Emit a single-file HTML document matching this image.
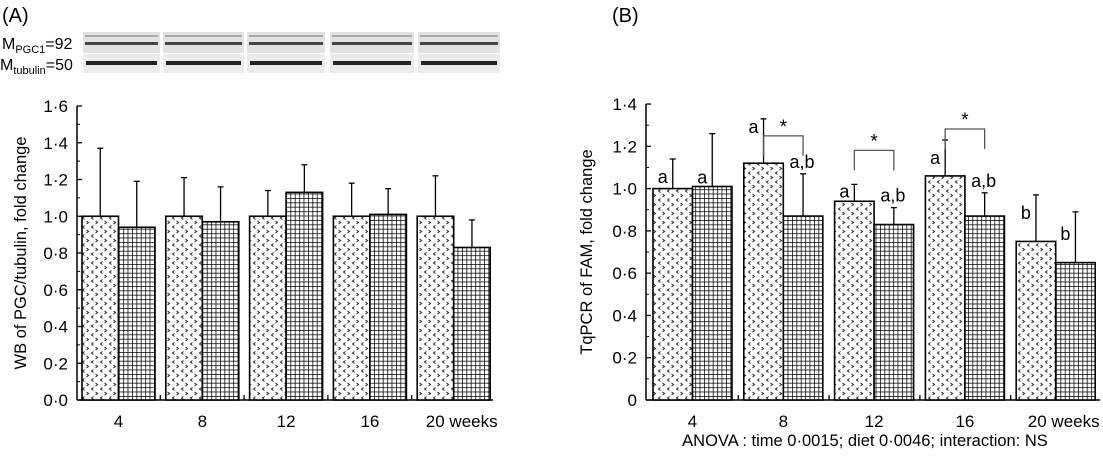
<!DOCTYPE html>
<html><head><meta charset="utf-8"><style>
html,body{margin:0;padding:0;background:#fff;}
svg{display:block;font-family:"Liberation Sans",Arial,sans-serif;}
</style></head><body>
<svg id="c" width="1103" height="458" viewBox="0 0 1103 458" xmlns="http://www.w3.org/2000/svg">
<defs>
<pattern id="dots" width="9" height="9" patternUnits="userSpaceOnUse">
<rect width="9" height="9" fill="#fff"/>
<path d="M3.5 0.5 L1.5 2 L3.5 3.5 M5.5 5 L7.5 6.5 L5.5 8" stroke="#222" stroke-width="1" fill="none"/>
</pattern>
<pattern id="grid" width="4.4" height="4.4" patternUnits="userSpaceOnUse">
<rect width="4.4" height="4.4" fill="#fff"/>
<path d="M0 0 H4.4 M0 0 V4.4" stroke="#000" stroke-width="1.5"/>
</pattern>
</defs>
<text x="2" y="22" font-size="20">(A)</text>
<text x="612" y="22" font-size="20">(B)</text>
<text x="2" y="49" font-size="16">M<tspan font-size="11" dy="4">PGC1</tspan><tspan dy="-4">=92</tspan></text>
<text x="0" y="70" font-size="16">M<tspan font-size="11" dy="4">tubulin</tspan><tspan dy="-4">=50</tspan></text>
<g id="blots"></g>
<g id="ga"></g><g id="gb"></g>
<text x="865" y="446" font-size="16.5" text-anchor="middle">ANOVA : time 0·0015; diet 0·0046; interaction: NS</text>
</svg>
<script>
const categories=["4","8","12","16","20 weeks"];
const aControl=[1.0,1.0,1.0,1.0,1.0];
const aTreat=[0.94,0.97,1.13,1.01,0.83];
const aControlErr=[1.37,1.21,1.14,1.18,1.22];
const aTreatErr=[1.19,1.16,1.28,1.15,0.98];
const aTicks=["0·0","0·2","0·4","0·6","0·8","1·0","1·2","1·4","1·6"];
const bControl=[1.0,1.12,0.94,1.06,0.75];
const bTreat=[1.01,0.87,0.83,0.87,0.65];
const bControlErr=[1.14,1.33,1.02,1.23,0.97];
const bTreatErr=[1.26,1.07,0.91,0.98,0.89];
const bControlLetters=["a","a","a","a","b"];
const bTreatLetters=["a","a,b","a,b","a,b","b"];
const bTicks=["0","0·2","0·4","0·6","0·8","1·0","1·2","1·4"];
const bStars=[false,true,true,true,false];
const NS="http://www.w3.org/2000/svg";
function mk(p,t,a){const e=document.createElementNS(NS,t);for(const k in a)e.setAttribute(k,a[k]);p.appendChild(e);return e;}
const bl=document.getElementById('blots');
const strips=[[83,160],[163,244],[247,325],[330,414],[418,500]];
strips.forEach(s=>{
 mk(bl,'rect',{x:s[0],y:32,width:s[1]-s[0],height:21,fill:'#e2e2e2'});
 mk(bl,'rect',{x:s[0],y:54,width:s[1]-s[0],height:19,fill:'#ebebeb'});
 mk(bl,'rect',{x:s[0]+2,y:42,width:s[1]-s[0]-4,height:3,fill:'#444'});
 mk(bl,'rect',{x:s[0]+2,y:35,width:s[1]-s[0]-4,height:2,fill:'#aaa'});
 mk(bl,'rect',{x:s[0]+3,y:61,width:s[1]-s[0]-6,height:4,fill:'#222'});
});
function panel(gid,o){
 const g=document.getElementById(gid);
 const y=v=>o.y0-v*o.k;
 mk(g,'line',{x1:o.ax,y1:y(o.max),x2:o.ax,y2:o.y0,stroke:'#000','stroke-width':1.5});
 mk(g,'line',{x1:o.ax,y1:o.y0,x2:o.xend,y2:o.y0,stroke:'#000','stroke-width':1.5});
 o.ticks.forEach((t,i)=>{const v=i*0.2;
  mk(g,'line',{x1:o.ax,y1:y(v),x2:o.ax+5,y2:y(v),stroke:'#000','stroke-width':1.3});
  if(i<o.ticks.length-1)mk(g,'line',{x1:o.ax,y1:y(v+0.1),x2:o.ax+3,y2:y(v+0.1),stroke:'#000','stroke-width':1});
  const tx=mk(g,'text',{x:o.ax-9,y:y(v)+6,'font-size':17,'text-anchor':'end'});tx.textContent=t;
  
  
 });
 const yt=mk(g,'text',{x:0,y:0,'font-size':16.5,'text-anchor':'middle',transform:`translate(${o.tx},${(y(o.max)+o.y0)/2}) rotate(-90)`});
 yt.textContent=o.title;
 
 
 categories.forEach((c,i)=>{
  const x0=o.x0+i*o.step,w=o.w;
  if(i>0)mk(g,'line',{x1:x0-o.gap/2,y1:o.y0,x2:x0-o.gap/2,y2:o.y0-5,stroke:'#000','stroke-width':1.3});
  [[o.c[i],o.ce[i],'url(#dots)',x0,'bar-control-'+c],[o.t[i],o.te[i],'url(#grid)',x0+w,'bar-treatment-'+c]].forEach(b=>{
   const cx=b[3]+w/2;
   mk(g,'line',{x1:cx,y1:y(b[1]),x2:cx,y2:y(b[0]),stroke:'#000','stroke-width':1.3});
   mk(g,'line',{x1:cx-3,y1:y(b[1]),x2:cx+3,y2:y(b[1]),stroke:'#000','stroke-width':1.3});
   const r=mk(g,'rect',{x:b[3],y:y(b[0]),width:w,height:o.y0-y(b[0]),fill:b[2],stroke:'#000','stroke-width':1.6});
   
   
  });
  const lx=mk(g,'text',{x:x0+w+(i==4?8:0),y:o.y0+27,'font-size':17,'text-anchor':'middle'});lx.textContent=c;
  
  
  if(o.cl){
   const l1=mk(g,'text',{x:x0+w/2-5,y:Math.min(y(o.c[i])-4,y(o.ce[i])+24)+(i==1?-10:0),'font-size':18,'text-anchor':'end'});l1.textContent=o.cl[i];
   
   
   const l2=mk(g,'text',{x:x0+w+w/2+(o.tl[i].length>1?-1:-5),y:y(o.te[i])+(o.tl[i].length>1?-6:28)+(i==0?22:0),'font-size':18,'text-anchor':o.tl[i].length>1?'middle':'end'});l2.textContent=o.tl[i];
   
   
   if(o.st[i]){
    const top=y(Math.max(o.ce[i],o.te[i]))+(i==1?17:i==3?-11:-34);
    const p=mk(g,'path',{d:`M${x0+w/2} ${top+20} V${top} H${x0+w*1.5} V${top+20}`,fill:'none',stroke:'#555','stroke-width':1.3});
    
    
    const s=mk(g,'text',{x:x0+w,y:top-3,'font-size':19,'text-anchor':'middle'});s.textContent='*';
    
    
   }
  }
 });
}
panel('ga',{ax:77,y0:400,k:183.75,max:1.6,xend:493,x0:82,step:83.8,w:36.5,gap:11,ticks:aTicks,title:'WB of PGC/tubulin, fold change',tx:26,c:aControl,t:aTreat,ce:aControlErr,te:aTreatErr});
panel('gb',{ax:646,y0:400,k:211.4,max:1.4,xend:1100,x0:653,step:90.8,w:39.5,gap:11,ticks:bTicks,title:'TqPCR of FAM, fold change',tx:592,c:bControl,t:bTreat,ce:bControlErr,te:bTreatErr,cl:bControlLetters,tl:bTreatLetters,st:bStars});
</script>
</body></html>
